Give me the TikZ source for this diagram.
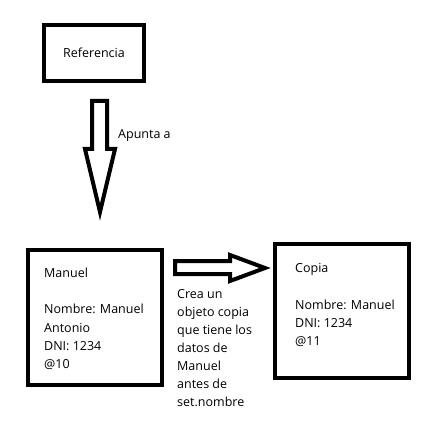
\documentclass[tikz,border=0pt]{standalone}
\usepackage{fontspec}
\setmainfont{Open Sans}
\begin{document}
\begin{tikzpicture}[x=1pt,y=-1pt,
  box/.style={draw=black,line width=4pt,miter limit=10,inner sep=0pt},
  blockarrow/.style={draw=black,line width=4pt,line join=miter,fill=white},
  txt/.style={anchor=north west,inner sep=0pt,align=left,font=\fontsize{12.5}{18.1}\selectfont}]
\useasboundingbox (0,0) rectangle (435,430);
\fill[white] (0,0) rectangle (435,430);
% boxes
\node[box,minimum width=100pt,minimum height=56pt,font=\fontsize{12.5}{18.1}\selectfont] (ref) at (94,53) {Referencia};
\node[box,minimum width=134pt,minimum height=135pt] (manuel) at (95,317.5) {};
\node[box,minimum width=134pt,minimum height=134pt] (copia) at (342,311) {};
% texts
\node[txt] (tmanuel) at (44,268) {Manuel\\ \\Nombre: Manuel\\Antonio\\DNI: 1234\\@10};
\node[txt] (tcopia) at (295,263.5) {Copia\\ \\Nombre: Manuel\\DNI: 1234\\@11};
\node[txt] (tmid) at (177,289) {Crea un\\objeto copia\\que tiene los\\datos de\\Manuel\\antes de\\set.nombre};
\node[txt] (tapunta) at (118,129) {Apunta a};
% block arrows
\draw[blockarrow] (92,101) -- (107,101) -- (107,149) -- (115,149) -- (100,212) -- (85,149) -- (92,149) -- cycle;
\draw[blockarrow] (175,261) -- (230,261) -- (230,255) -- (265,268) -- (230,281) -- (230,274) -- (175,274) -- cycle;
\end{tikzpicture}
\end{document}
